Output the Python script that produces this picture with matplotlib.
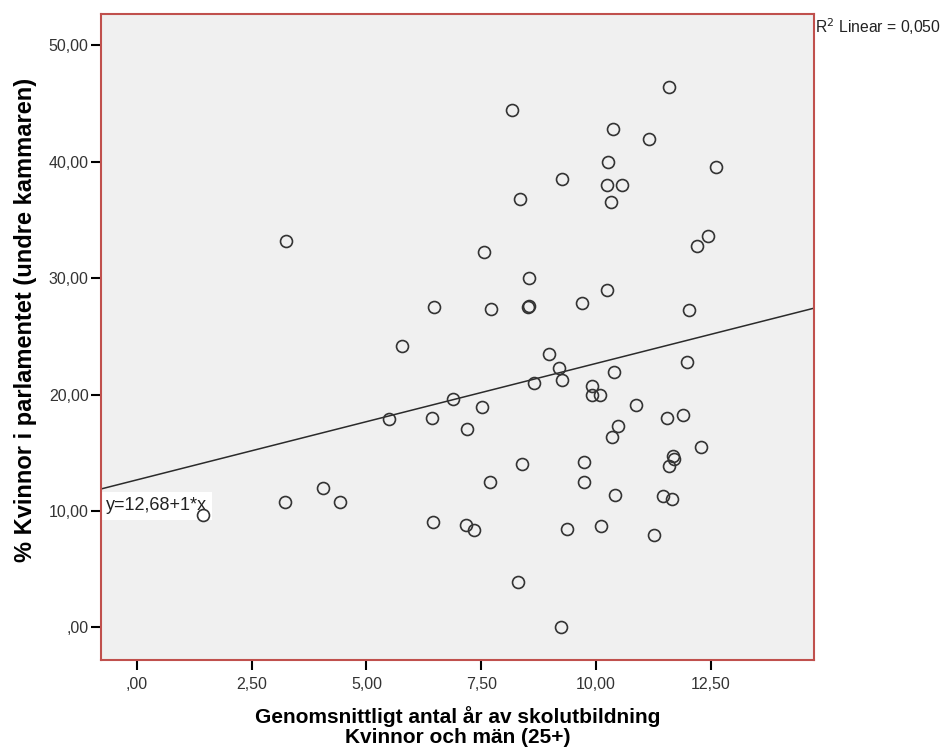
import numpy as np
import matplotlib.pyplot as plt
from matplotlib.ticker import FuncFormatter

plt.rcParams['font.family'] = ['Liberation Sans', 'DejaVu Sans']

# utbildningsår (x) och andel kvinnor i parlamentet (y)
skolar = [1.44, 3.24, 3.23, 4.06, 4.42, 5.49, 5.77, 6.43, 6.48, 6.46,
          6.88, 7.19, 7.17, 7.34, 7.52, 7.57, 7.69, 7.72, 8.18, 8.34,
          8.39, 8.31, 8.52, 8.54, 8.54, 8.64, 8.98, 9.19, 9.26, 9.27,
          9.24, 9.37, 9.69, 9.73, 9.74, 9.92, 9.92, 10.08, 10.11, 10.25,
          10.26, 10.25, 10.33, 10.38, 10.39, 10.36, 10.41, 10.48, 10.56, 10.88,
          11.15, 11.26, 11.46, 11.55, 11.58, 11.59, 11.66, 11.68, 11.70, 11.90,
          11.99, 12.03, 12.19, 12.29, 12.45, 12.61]
kvinnor = [9.66, 33.23, 10.81, 12.01, 10.81, 17.88, 24.18, 17.97, 27.56, 9.09,
           19.66, 17.08, 8.81, 8.38, 18.97, 32.29, 12.47, 27.39, 44.46, 36.79,
           14.07, 3.88, 27.50, 27.60, 30.00, 20.98, 23.50, 22.29, 38.50, 21.26,
           0.00, 8.49, 27.88, 14.19, 12.47, 20.77, 19.97, 19.97, 8.69, 29.00,
           39.99, 37.99, 36.58, 42.85, 21.98, 16.39, 11.38, 17.28, 37.99, 19.09,
           41.97, 7.97, 11.30, 17.97, 13.87, 46.40, 11.07, 14.73, 14.45, 18.28,
           22.78, 27.28, 32.80, 15.48, 33.60, 39.59]

# regressionslinje enligt etiketten
intercept = 12.68
slope = 1.0
r2_text = 'R$^2$ Linear = 0,050'
eq_text = 'y=12,68+1*x'

x_ticks = [0, 2.5, 5, 7.5, 10, 12.5]
y_ticks = [0, 10, 20, 30, 40, 50]


def sv_format(v, pos=None):
    s = f'{v:.2f}'.replace('.', ',')
    if s.startswith('0'):
        s = s[1:]
    return s


fig = plt.figure(figsize=(9.47, 7.51), dpi=100)
ax = fig.add_axes([0.1067, 0.1212, 0.7529, 0.8602])
ax.set_facecolor('#f0f0f0')

xlim = (-0.78, 14.75)
ylim = (-2.79, 52.7)
ax.set_xlim(xlim)
ax.set_ylim(ylim)

# linje
lx = np.array(xlim)
ax.plot(lx, intercept + slope * lx, color='#2b2b2b', lw=1.1, zorder=2)

# punkter
ax.plot(skolar, kvinnor, linestyle='none', marker='o', markersize=8.6,
        markerfacecolor='none', markeredgecolor='#333333', markeredgewidth=1.2, zorder=3)

ax.text(-0.68, 10.44, eq_text, fontsize=13, color='#222222', va='center', ha='left',
        bbox=dict(facecolor='white', edgecolor='none', pad=4), zorder=2.5)

for s in ax.spines.values():
    s.set_color('#c0504d')
    s.set_linewidth(1.5)

ax.set_xticks(x_ticks)
ax.set_yticks(y_ticks)
ax.xaxis.set_major_formatter(FuncFormatter(sv_format))
ax.yaxis.set_major_formatter(FuncFormatter(sv_format))
ax.tick_params(axis='both', direction='out', length=7, width=1.5, color='black',
               labelsize=11.5, labelcolor='#333333')
ax.tick_params(axis='x', pad=5)
ax.tick_params(axis='y', pad=2)

ax.set_xlabel('Genomsnittligt antal år av skolutbildning\nKvinnor och män (25+)',
              fontsize=15, fontweight='bold', labelpad=10, linespacing=1.08)
ax.set_ylabel('% Kvinnor i parlamentet (undre kammaren)', fontsize=17,
              fontweight='bold')
ax.yaxis.set_label_coords(-0.09, 0.526)

fig.text(815 / 947, 1 - 27 / 751, r2_text, fontsize=11.3, color='#222222',
         ha='left', va='center')

fig.savefig('out.png', dpi=100)
